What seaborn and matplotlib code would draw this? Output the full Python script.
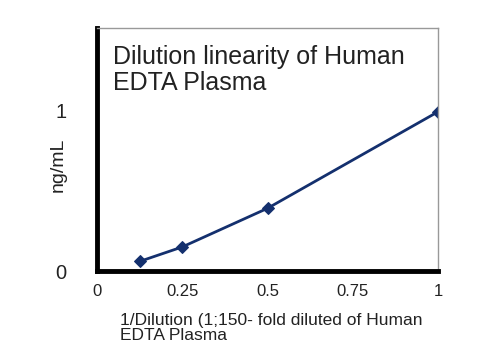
import pandas as pd
import seaborn as sns
import matplotlib.pyplot as plt

# Dilution data
dilution = [0.125, 0.25, 0.5, 1.0]
conc = [0.06, 0.15, 0.39, 0.99]

sns.set_style('white')
plt.rcParams['font.family'] = ['Liberation Sans', 'DejaVu Sans']

df = pd.DataFrame({'dilution': dilution, 'conc': conc})

fig = plt.figure(figsize=(5, 3.6), dpi=100)
ax = fig.add_axes([0.194, 0.247, 0.682, 0.675])

sns.lineplot(data=df, x='dilution', y='conc', ax=ax, color='#14306e',
             marker='D', markersize=6, markeredgecolor='#14306e', linewidth=2)

ax.set_xlim(0, 1)
ax.set_ylim(0, 1.51)
ax.set_xticks([0, 0.25, 0.5, 0.75, 1])
ax.set_xticklabels(['0', '0.25', '0.5', '0.75', '1'], fontsize=12, color='#222222')
ax.set_yticks([0, 1])
ax.set_yticklabels(['0', '1'], fontsize=14.5, color='#222222')
ax.tick_params(axis='x', length=0, pad=9)
ax.tick_params(axis='y', length=0, pad=22)

for side in ['left', 'bottom']:
    ax.spines[side].set_linewidth(3.5)
    ax.spines[side].set_color('black')
for side in ['top', 'right']:
    ax.spines[side].set_linewidth(1)
    ax.spines[side].set_color('#999999')

ax.set_ylabel('ng/mL', fontsize=14, color='#222222')
ax.yaxis.set_label_coords(-0.09, 0.436)
ax.set_xlabel('1/Dilution (1;150- fold diluted of Human\nEDTA Plasma',
              fontsize=12.5, color='#222222', ha='left', linespacing=1.05)
ax.xaxis.set_label_coords(0.067, -0.172)

ax.text(0.047, 0.93, 'Dilution linearity of Human\nEDTA Plasma', transform=ax.transAxes,
        fontsize=18, va='top', ha='left', color='#222222', linespacing=1.12)

fig.savefig('out.png', dpi=100)
